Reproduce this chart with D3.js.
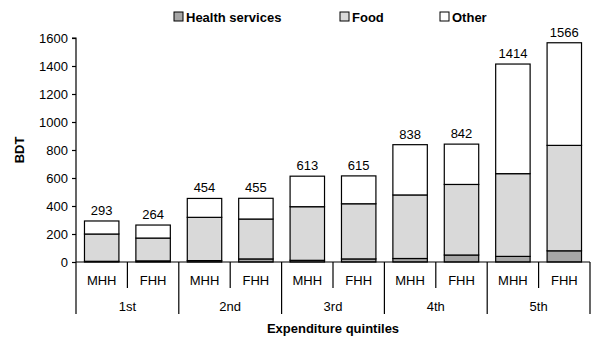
<!DOCTYPE html>
<html>
<head>
<meta charset="utf-8">
<script src="https://cdn.jsdelivr.net/npm/d3@7"></script>
<style>
  html, body { margin: 0; padding: 0; background: #fff; }
  svg { display: block; font-family: "Liberation Sans", Arial, sans-serif; }
</style>
</head>
<body>
<svg id="chart" width="592" height="341"></svg>
<script>
// Monthly household expenditure (BDT) by quintile and household head
const quintiles = ["1st", "2nd", "3rd", "4th", "5th"];
const heads = ["MHH", "FHH"];
const health = [5, 8, 10, 22, 12, 22, 25, 50, 40, 80];
const food = [195, 163, 309, 285, 383, 394, 454, 504, 591, 753];
const totals = [293, 264, 454, 455, 613, 615, 838, 842, 1414, 1566];
const yTicks = [0, 200, 400, 600, 800, 1000, 1200, 1400, 1600];
const seriesNames = ["Health services", "Food", "Other"];
const seriesColors = ["#a6a6a6", "#d9d9d9", "#ffffff"];

const rows = [];
quintiles.forEach((q, qi) => heads.forEach((h, hi) => {
  const i = qi * heads.length + hi;
  rows.push({
    key: q + "-" + h, quintile: q, head: h,
    "Health services": health[i],
    "Food": food[i],
    "Other": totals[i] - health[i] - food[i],
    total: totals[i]
  });
}));

const svg = d3.select("#chart");
const margin = { left: 76, right: 2, top: 38, bottom: 79 };
const W = 592, H = 341;
const x0 = margin.left, x1 = W - margin.right;
const yBottom = H - margin.bottom, yTop = margin.top;
const fs = 13;

const x = d3.scaleBand().domain(rows.map(d => d.key)).range([x0, x1]).paddingInner(0.33).paddingOuter(0.165);
const xCat = d3.scaleBand().domain(rows.map(d => d.key)).range([x0, x1]);
const xGroup = d3.scaleBand().domain(quintiles).range([x0, x1]);
const y = d3.scaleLinear().domain([0, 1600]).range([yBottom, yTop]);

const stack = d3.stack().keys(seriesNames)(rows);
const color = d3.scaleOrdinal().domain(seriesNames).range(seriesColors);

// Stacked bars
svg.append("g").selectAll("g").data(stack).join("g")
  .attr("fill", d => color(d.key))
  .selectAll("rect").data(d => d).join("rect")
  .attr("x", d => x(d.data.key))
  .attr("width", x.bandwidth())
  .attr("y", d => y(d[1]))
  .attr("height", d => y(d[0]) - y(d[1]))
  .attr("stroke", "#000")
  .attr("stroke-width", 1.2);

// Total labels
svg.append("g").selectAll("text").data(rows).join("text")
  .attr("x", d => x(d.key) + x.bandwidth() / 2)
  .attr("y", d => y(d.total) - 6)
  .attr("text-anchor", "middle")
  .attr("font-size", fs)
  .attr("fill", "#000")
  .text(d => d.total);

// Y axis
const yAxis = d3.axisLeft(y).tickValues(yTicks).tickSize(4).tickPadding(4).tickFormat(d3.format("d"));
const gy = svg.append("g").attr("transform", `translate(${x0},0)`).call(yAxis);
gy.select(".domain").attr("stroke", "#000").attr("stroke-width", 1.2).attr("d", `M-4,${yTop}H0V${yBottom}`);
gy.selectAll(".tick line").attr("stroke", "#000").attr("stroke-width", 1.2);
gy.selectAll(".tick text").attr("font-size", fs).attr("fill", "#000").attr("font-family", "Liberation Sans, Arial, sans-serif");

// X axis baseline
svg.append("line").attr("x1", x0).attr("x2", x1).attr("y1", yBottom).attr("y2", yBottom)
  .attr("stroke", "#000").attr("stroke-width", 1.2);

// Category separators (short) and group separators (long)
const catEdges = rows.map(d => xCat(d.key)).concat([x1]);
svg.append("g").selectAll("line").data(catEdges).join("line")
  .attr("x1", d => d).attr("x2", d => d)
  .attr("y1", yBottom)
  .attr("y2", (d, i) => i % 2 === 0 ? yBottom + 52 : yBottom + 26)
  .attr("stroke", "#000").attr("stroke-width", 1.2);

// Household head labels
svg.append("g").selectAll("text").data(rows).join("text")
  .attr("x", d => xCat(d.key) + xCat.bandwidth() / 2)
  .attr("y", yBottom + 23)
  .attr("text-anchor", "middle")
  .attr("font-size", fs)
  .text(d => d.head);

// Quintile labels
svg.append("g").selectAll("text").data(quintiles).join("text")
  .attr("x", d => xGroup(d) + xGroup.bandwidth() / 2)
  .attr("y", yBottom + 49)
  .attr("text-anchor", "middle")
  .attr("font-size", fs)
  .text(d => d);

// Axis titles
svg.append("text")
  .attr("x", (x0 + x1) / 2).attr("y", 333)
  .attr("text-anchor", "middle").attr("font-size", fs).attr("font-weight", "bold")
  .text("Expenditure quintiles");
svg.append("text")
  .attr("transform", `translate(24,${(yTop + yBottom) / 2}) rotate(-90)`)
  .attr("text-anchor", "middle").attr("font-size", fs).attr("font-weight", "bold")
  .text("BDT");

// Legend
const legendX = [174, 340, 440];
const lg = svg.append("g").selectAll("g").data(seriesNames).join("g")
  .attr("transform", (d, i) => `translate(${legendX[i]},12)`);
lg.append("rect").attr("width", 9).attr("height", 9)
  .attr("fill", d => color(d)).attr("stroke", "#000").attr("stroke-width", 1);
lg.append("text").attr("x", 12).attr("y", 9.5)
  .attr("font-size", fs).attr("font-weight", "bold")
  .text(d => d);
</script>
</body>
</html>
